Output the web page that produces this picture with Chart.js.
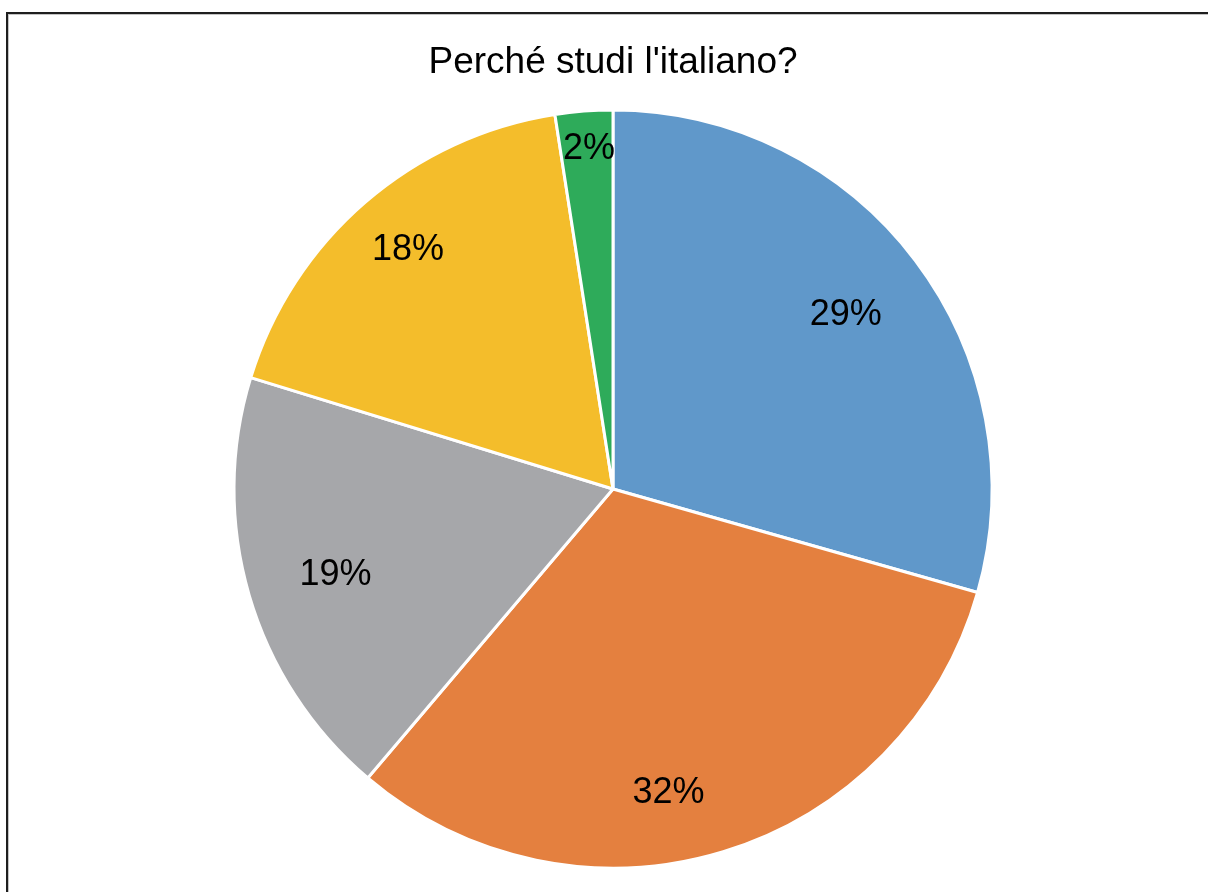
<!DOCTYPE html>
<html>
<head>
<meta charset="utf-8">
<script src="https://cdn.jsdelivr.net/npm/chart.js@4.4.1/dist/chart.umd.min.js"></script>
<style>
  html, body { margin: 0; padding: 0; background: #fff; overflow: hidden; }
  #wrap { position: absolute; left: 0; top: 0; width: 1208px; height: 892px; }
  #frame {
    position: absolute; left: 6px; top: 12px; width: 1300px; height: 1000px;
    border-left: 2px solid #1e1e1e; border-top: 2px solid #1e1e1e;
    box-shadow: inset 1px 1px 0 #c4c4c4;
    pointer-events: none;
  }
</style>
</head>
<body>
<div id="wrap"><canvas id="pie-canva" width="1208" height="892"></canvas></div>
<div id="frame"></div>
<script>
const titleText = "Perché studi l'italiano?";
const categories = ['Motivo 1', 'Motivo 2', 'Motivo 3', 'Motivo 4', 'Motivo 5'];
const shares = [29.4, 31.8, 18.55, 17.8, 2.45];
const sliceColors = ['#6098CA', '#E4803F', '#A6A7AA', '#F4BD2B', '#2EAB5A'];

// where each % label sits (fraction of the radius) and a small angle nudge in degrees
const labelRadius = [0.77, 0.81, 0.765, 0.835, 0.905];
const labelNudge = [0, 6.5, -0.5, 0.5, 0.4];

const fontName = '"Liberation Sans", Arial, sans-serif';

const percentLabels = {
  id: 'percentLabels',
  afterDatasetsDraw(chart) {
    const ctx = chart.ctx;
    const meta = chart.getDatasetMeta(0);
    const total = shares.reduce((a, b) => a + b, 0);
    ctx.save();
    ctx.font = '36px ' + fontName;
    ctx.fillStyle = '#000';
    ctx.textAlign = 'center';
    ctx.textBaseline = 'middle';
    meta.data.forEach((arc, i) => {
      const p = arc.getProps(['x', 'y', 'startAngle', 'endAngle', 'outerRadius'], true);
      const mid = (p.startAngle + p.endAngle) / 2 + labelNudge[i] * Math.PI / 180;
      const r = p.outerRadius * labelRadius[i];
      const txt = Math.round(shares[i] / total * 100) + '%';
      ctx.fillText(txt, p.x + Math.cos(mid) * r, p.y + Math.sin(mid) * r + 2);
    });
    ctx.restore();
  }
};

const config = {
  type: 'pie',
  data: {
    labels: categories,
    datasets: [{
      data: shares,
      backgroundColor: sliceColors,
      borderColor: '#ffffff',
      borderWidth: 3
    }]
  },
  options: {
    responsive: false,
    animation: false,
    layout: {
      padding: { left: 18, right: 0, top: 0, bottom: 22.5 }
    },
    plugins: {
      legend: { display: false },
      tooltip: { enabled: false },
      title: {
        display: true,
        text: titleText,
        color: '#000',
        font: { family: fontName, size: 37, weight: 'normal' },
        padding: { top: 41, bottom: 23.1 }
      }
    }
  },
  plugins: [percentLabels]
};

let chart = new Chart(document.getElementById('pie-canva'), config);
</script>
</body>
</html>
